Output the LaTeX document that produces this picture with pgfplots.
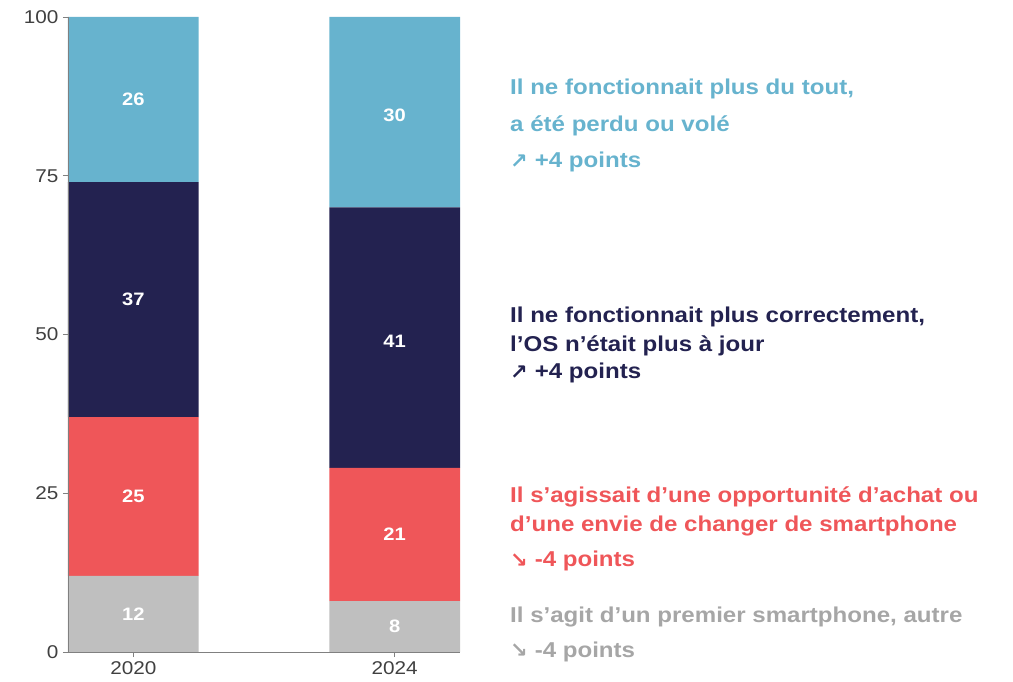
\documentclass[border=0pt]{standalone}
\usepackage{pgfplots}
\pgfplotsset{compat=1.18}
\usepackage{fontspec}
\setmainfont{Liberation Sans}[FakeStretch=1.12]
\newfontfamily\arrowfont{DejaVu Sans}
\definecolor{cblue}{RGB}{103,179,206}
\definecolor{cnavy}{RGB}{35,34,80}
\definecolor{cred}{RGB}{239,86,89}
\definecolor{cgray}{RGB}{191,191,191}
\definecolor{tgray}{RGB}{166,166,166}
\definecolor{axgray}{RGB}{128,128,128}
\definecolor{ticktext}{RGB}{64,64,64}
\newcommand{\arr}[1]{\raisebox{-0.5pt}{\arrowfont\bfseries\fontsize{21}{20}\selectfont #1}\hspace{7pt}}
\begin{document}
\begin{tikzpicture}
\useasboundingbox (-68pt,-29pt) rectangle (945pt,652pt);
\begin{axis}[
  scale only axis, width=392pt, height=635pt,
  xmin=-0.25, xmax=1.25, ymin=0, ymax=100,
  ybar stacked, bar width=0.5,
  axis lines*=left,
  axis line style={axgray, line width=0.8pt},
  xtick={0,1}, xticklabels={2020,2024},
  ytick={0,25,50,75,100},
  tick align=outside, major tick length=5pt,
  tick style={axgray, line width=0.8pt},
  /pgf/number format/assume math mode=true,
  ticklabel style={font=\fontsize{18.5}{20}\selectfont, text=ticktext},
  yticklabel style={xshift=-1pt},
  xticklabel style={yshift=-1pt},
  axis on top,
]
\addplot[fill=cgray, draw=none] coordinates {(0,12) (1,8)};
\addplot[fill=cred, draw=none] coordinates {(0,25) (1,21)};
\addplot[fill=cnavy, draw=none] coordinates {(0,37) (1,41)};
\addplot[fill=cblue, draw=none] coordinates {(0,26) (1,30)};
\end{axis}
\begin{axis}[
  scale only axis, width=392pt, height=635pt,
  xmin=-0.25, xmax=1.25, ymin=0, ymax=100,
  hide axis,
]
\addplot[draw=none, mark=none, nodes near coords, point meta=explicit symbolic,
  every node near coord/.style={anchor=center, text=white, font=\bfseries\fontsize{18}{20}\selectfont}]
  coordinates {(0,6)[12] (0,24.5)[25] (0,55.5)[37] (0,87)[26]
               (1,4)[8] (1,18.5)[21] (1,49)[41] (1,84.5)[30]};
\end{axis}
\begin{scope}[every node/.style={anchor=base west, inner sep=0pt, font=\bfseries\fontsize{21.5}{24}\selectfont}]
\node[text=cblue] at (442pt,557pt) {Il ne fonctionnait plus du tout,};
\node[text=cblue] at (442pt,520pt) {a été perdu ou volé};
\node[text=cblue] at (442pt,484pt) {\arr{↗}+4 points};
\node[text=cnavy] at (442pt,329pt) {Il ne fonctionnait plus correctement,};
\node[text=cnavy] at (442pt,300pt) {l’OS n’était plus à jour};
\node[text=cnavy] at (442pt,273pt) {\arr{↗}+4 points};
\node[text=cred] at (442pt,149pt) {Il s’agissait d’une opportunité d’achat ou};
\node[text=cred] at (442pt,121pt) {d’une envie de changer de smartphone};
\node[text=cred] at (442pt,85pt) {\arr{↘}-4 points};
\node[text=tgray] at (442pt,30pt) {Il s’agit d’un premier smartphone, autre};
\node[text=tgray] at (442pt,-5pt) {\arr{↘}-4 points};
\end{scope}
\end{tikzpicture}
\end{document}
